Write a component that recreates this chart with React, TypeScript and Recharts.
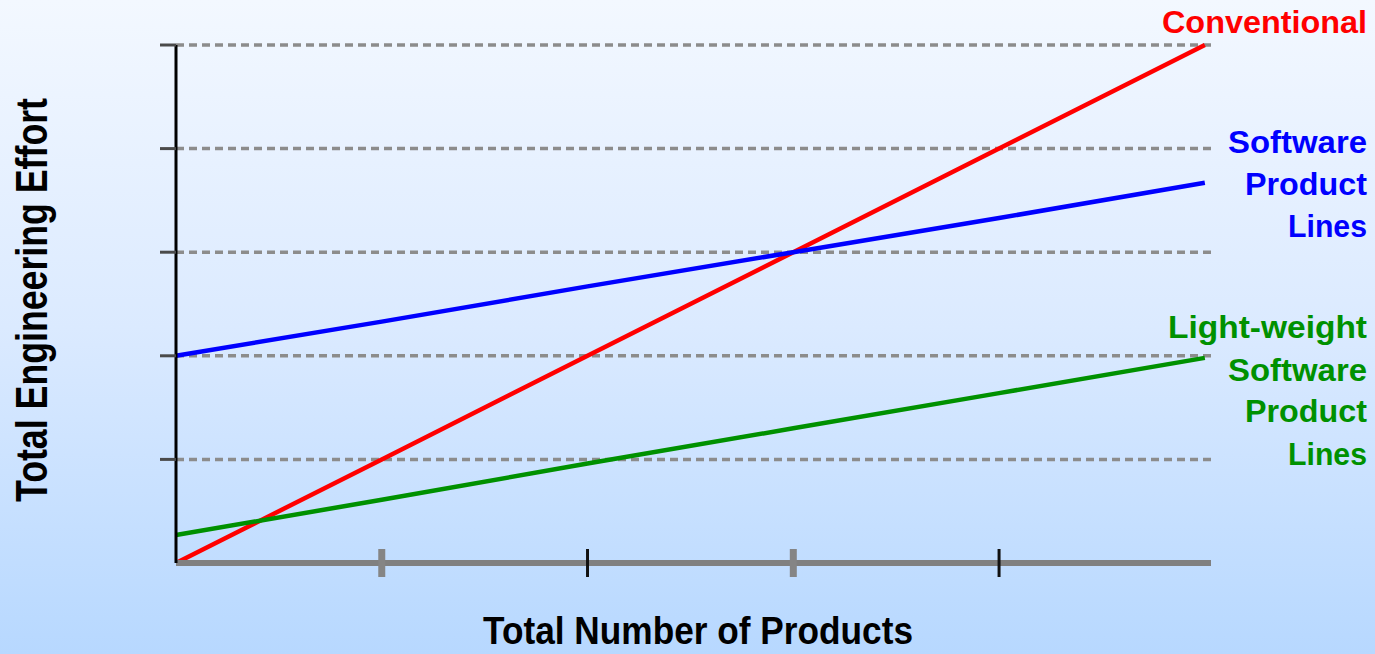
import { CartesianGrid, Line, LineChart, XAxis, YAxis } from "recharts";

// products on the x axis, effort on the y axis (arbitrary units)
const products = [0, 1, 2, 3, 4, 5];
const conventional = [0, 1, 2, 3, 4, 5];
const productLines = [2, 2.33, 2.67, 3, 3.33, 3.67];
const lightweight = [0.27, 0.61, 0.96, 1.3, 1.64, 1.98];

const xTicks = [1, 2, 3, 4];
const yTicks = [1, 2, 3, 4, 5];

const data = products.map((p, i) => ({
  products: p,
  conventional: conventional[i],
  productLines: productLines[i],
  lightweight: lightweight[i],
}));

const FONT = "'Liberation Sans', Arial, sans-serif";

// x ticks cross the axis line; every other one is drawn thin and black
function CrossTick({ x, y, index }: any) {
  const wide = index % 2 === 0;
  return (
    <line
      x1={x}
      x2={x}
      y1={y - 14}
      y2={y + 14}
      stroke={wide ? "#858585" : "#111"}
      strokeWidth={wide ? 7 : 3}
    />
  );
}

// y axis keeps its tick marks but shows no numbers
const NoLabel = () => <g />;

function Label({ x, y, text, color, len, size = 32 }: {
  x: number; y: number; text: string; color: string; len: number; size?: number;
}) {
  return (
    <text
      x={x}
      y={y}
      fill={color}
      fontFamily={FONT}
      fontWeight="bold"
      fontSize={size}
      textAnchor="end"
      textLength={len}
      lengthAdjust="spacingAndGlyphs"
    >
      {text}
    </text>
  );
}

export default function App() {
  return (
    <div
      style={{
        position: "absolute",
        left: 0,
        top: 0,
        width: 1375,
        height: 654,
        background: "linear-gradient(to bottom, #f3f8ff 0%, #dbeaff 50%, #b7d8ff 100%)",
      }}
    >
      <LineChart
        width={1375}
        height={654}
        data={data}
        margin={{ top: 45, right: 164, bottom: 71, left: 156 }}
      >
        <CartesianGrid
          vertical={false}
          stroke="#8c8c8c"
          strokeWidth={3.5}
          strokeDasharray="8 5"
        />
        <XAxis
          dataKey="products"
          type="number"
          domain={[0, 5.03]}
          ticks={xTicks}
          axisLine={{ stroke: "#808080", strokeWidth: 6 }}
          tickLine={false}
          tickSize={0}
          tickMargin={0}
          tick={<CrossTick />}
          height={20}
        />
        <YAxis
          type="number"
          domain={[0, 5]}
          ticks={yTicks}
          width={20}
          axisLine={{ stroke: "#000", strokeWidth: 3 }}
          tickLine={{ stroke: "#4a4a4a", strokeWidth: 3 }}
          tickSize={16}
          tick={<NoLabel />}
        />
        <Line
          dataKey="conventional"
          stroke="#ff0000"
          strokeWidth={4.5}
          dot={false}
          isAnimationActive={false}
        />
        <Line
          dataKey="productLines"
          stroke="#0000ff"
          strokeWidth={4.5}
          dot={false}
          isAnimationActive={false}
        />
        <Line
          dataKey="lightweight"
          stroke="#009100"
          strokeWidth={4.5}
          dot={false}
          isAnimationActive={false}
        />

        <Label x={1367} y={33} text="Conventional" color="#ff0000" len={205} />

        <Label x={1367} y={153} text="Software" color="#0000ff" len={139} />
        <Label x={1367} y={195} text="Product" color="#0000ff" len={122} />
        <Label x={1367} y={237} text="Lines" color="#0000ff" len={79} />

        <Label x={1367} y={338} text="Light-weight" color="#009100" len={199} />
        <Label x={1367} y={381} text="Software" color="#009100" len={139} />
        <Label x={1367} y={422} text="Product" color="#009100" len={122} />
        <Label x={1367} y={465} text="Lines" color="#009100" len={79} />

        <text
          x={698}
          y={644}
          fill="#000"
          fontFamily={FONT}
          fontWeight="bold"
          fontSize={38}
          textAnchor="middle"
          textLength={430}
          lengthAdjust="spacingAndGlyphs"
        >
          Total Number of Products
        </text>
        <text
          x={47}
          y={300}
          transform="rotate(-90, 47, 300)"
          fill="#000"
          fontFamily={FONT}
          fontWeight="bold"
          fontSize={44}
          textAnchor="middle"
          textLength={404}
          lengthAdjust="spacingAndGlyphs"
        >
          Total Engineering Effort
        </text>
      </LineChart>
    </div>
  );
}
